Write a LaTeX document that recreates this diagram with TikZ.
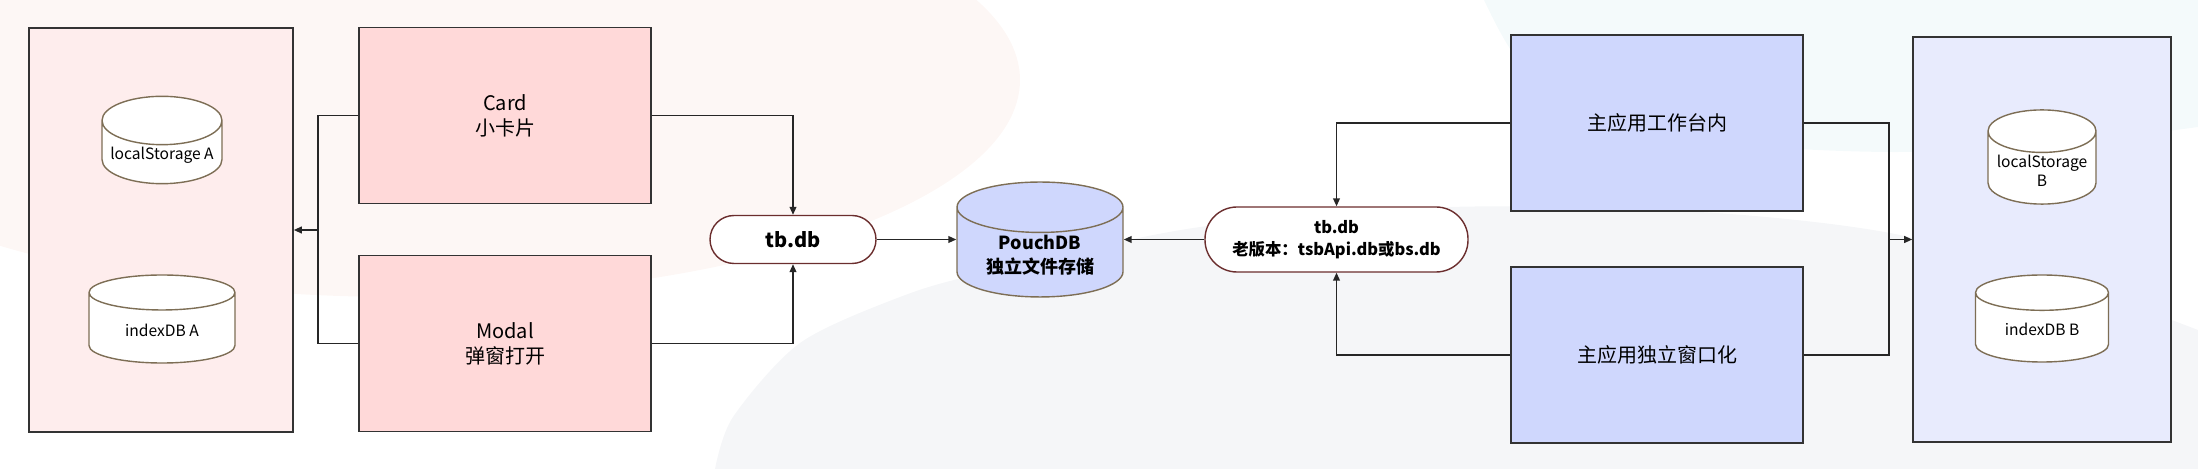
\documentclass[tikz,border=0pt]{standalone}
\usepackage{fontspec}
\setmainfont{Noto Sans CJK SC}
\usetikzlibrary{shapes.geometric,arrows.meta}

\definecolor{bgpink}{HTML}{FDF7F5}
\definecolor{bgcyan}{HTML}{F4FAFB}
\definecolor{bggray}{HTML}{F5F6F8}
\definecolor{panelpink}{HTML}{FEEDED}
\definecolor{cardpink}{HTML}{FFD9D9}
\definecolor{cardblue}{HTML}{CFD7FD}
\definecolor{panelblue}{HTML}{E8EBFD}
\definecolor{boxline}{HTML}{333333}
\definecolor{dbline}{HTML}{7D6E55}
\definecolor{pillline}{HTML}{6B2E2E}

\tikzset{
  box/.style={draw=boxline,line width=0.8pt,minimum width=146pt,minimum height=88pt,
    align=center,font=\fontsize{10}{12.5}\selectfont},
  pinkbox/.style={box,fill=cardpink},
  bluebox/.style={box,fill=cardblue},
  panel/.style={draw=boxline,line width=0.8pt,inner sep=0pt},
  store/.style={cylinder,shape border rotate=90,draw=dbline,line width=0.7pt,fill=white,
    aspect=0.45,anchor=shape center,align=center,inner sep=1pt,font=\fontsize{7.8}{9.5}\selectfont},
  pill/.style={draw=pillline,line width=0.7pt,fill=white,align=center},
  link/.style={draw=black!85,line width=0.75pt},
  >={Triangle[length=4pt,width=3.4pt]}
}

\begin{document}
\begin{tikzpicture}[x=0.5pt,y=-0.5pt]
\useasboundingbox (0,0) rectangle (2198,469);

% background blobs
\begin{scope}
\clip (0,0) rectangle (2198,469);
\fill[bgpink] (400,80) ellipse [x radius=620,y radius=217];
\fill[bgcyan] plot[smooth] coordinates {(1484,0) (1520,62) (1590,110) (1730,143) (1890,152) (2050,145) (2198,127)} -- (2198,0) -- cycle;
\fill[bggray] plot[smooth] coordinates {(715,469) (733,417) (800,343) (900,297) (983,273) (1200,227) (1450,207) (1700,212) (1890,233) (2060,280) (2198,330)} -- (2198,469) -- cycle;
\end{scope}

% left side
\node[panel,fill=panelpink,minimum width=132pt,minimum height=202pt] (panelA) at (161,230) {};
\node[store,minimum width=60pt,minimum height=38.5pt] (lsA) at (162,140) {localStorage A};
\node[store,minimum width=73pt,minimum height=44pt] (idbA) at (162,319) {indexDB A};
\node[pinkbox] (card) at (505,115.5) {Card\\小卡片};
\node[pinkbox] (modal) at (505,343.5) {Modal\\弹窗打开};
\node[pill,minimum width=83pt,minimum height=24pt,rounded corners=12pt,
  font=\fontsize{10}{13}\selectfont\bfseries] (tbA) at (793,239.5) {tb.db};

% middle
\node[store,fill=cardblue,minimum width=83pt,minimum height=46.5pt,
  font=\fontsize{9}{12}\selectfont\bfseries] (pouch) at (1040,239.5) {PouchDB\\独立文件存储};

% right side
\node[pill,minimum width=131.5pt,minimum height=32.5pt,rounded corners=16pt,
  font=\fontsize{8.2}{11}\selectfont\bfseries] (tbB) at (1336.5,239.5) {tb.db\\老版本：tsbApi.db或bs.db};
\node[bluebox] (work) at (1657,123) {主应用工作台内};
\node[bluebox] (window) at (1657,355) {主应用独立窗口化};
\node[panel,fill=panelblue,minimum width=129pt,minimum height=202.5pt] (panelB) at (2042,239.5) {};
\node[store,minimum width=54pt,minimum height=36pt] (lsB) at (2042,157) {localStorage\\B};
\node[store,minimum width=66.5pt,minimum height=43.5pt] (idbB) at (2042,318.5) {indexDB B};

% connectors
\coordinate (jA) at (318,230);
\coordinate (jB) at (1889,239.5);
\draw[link] (card.west) -| (jA);
\draw[link] (modal.west) -| (jA);
\draw[link,->] (jA) -- (panelA.east);
\draw[link,->] (card.east) -| (tbA.north);
\draw[link,->] (modal.east) -| (tbA.south);
\draw[link,->] (tbA) -- (tbA -| pouch.west);
\draw[link,->] (tbB) -- (tbB -| pouch.east);
\draw[link,->] (work.west) -| (tbB.north);
\draw[link,->] (window.west) -| (tbB.south);
\draw[link] (work.east) -| (jB);
\draw[link] (window.east) -| (jB);
\draw[link,->] (jB) -- (panelB.west);
\end{tikzpicture}
\end{document}
